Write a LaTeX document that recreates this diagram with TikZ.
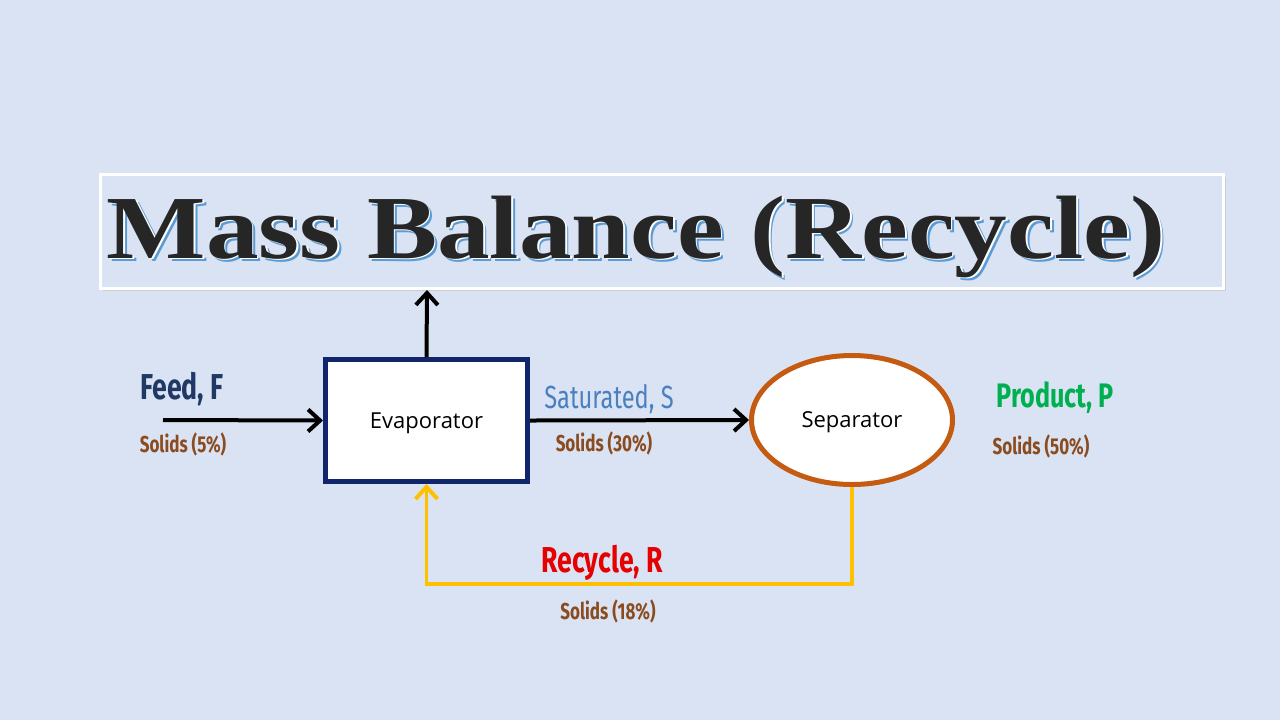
\documentclass[tikz,border=0pt]{standalone}
\usepackage{fontspec}
\setsansfont{Open Sans}
\newfontfamily\condfont[FakeStretch=0.74]{Fira Sans}
\newfontfamily\titlefont[FakeStretch=1.17]{Liberation Serif}
\usetikzlibrary{shapes.geometric,arrows.meta}

\definecolor{bgblue}{HTML}{DAE3F3}
\definecolor{boxnavy}{HTML}{10256B}
\definecolor{feedblue}{HTML}{203864}
\definecolor{satblue}{HTML}{4A80BF}
\definecolor{prodgreen}{HTML}{00B050}
\definecolor{recred}{HTML}{E60000}
\definecolor{solidbrown}{HTML}{8A4B1F}
\definecolor{seporange}{HTML}{C55A11}
\definecolor{recyellow}{HTML}{FFC000}
\definecolor{shadowblue}{HTML}{5B9BD5}

% title text with a white rim and a blue drop shadow
\newcommand{\shadowtext}[1]{%
  \rlap{\kern1.8pt\raisebox{-1.6pt}{\color{shadowblue}#1}}%
  \rlap{\kern0.9pt\raisebox{-0.8pt}{\color{white}#1}}%
  {\color{black!85}#1}}

\tikzset{
  stream/.style={draw=black, line width=2pt, -{Straight Barb[length=6pt,width=11pt,line width=2pt]}},
  streamname/.style={anchor=base, font=\condfont\bfseries},
  solids/.style={anchor=base, text=solidbrown, font=\condfont\bfseries\fontsize{11.5}{13}\selectfont},
  unit/.style={fill=white, text height=7.5pt, text depth=0pt, font=\sffamily\fontsize{11}{13}\selectfont}
}

\begin{document}
\begin{tikzpicture}[x=0.5pt,y=-0.5pt]
		% page
		\fill[bgblue] (0,0) rectangle (1280,720);
		\useasboundingbox (0,0) rectangle (1280,720);

		% title banner
		\fill[black!20] (103,177) rectangle (1226,291);
		\draw[white, line width=1.5pt, fill=bgblue] (100,174) rectangle (1223,288);
		\node[anchor=base, font=\titlefont\bfseries\fontsize{45}{50}\selectfont] (title) at (636,258) {\shadowtext{Mass Balance (Recycle)}};
		\coordinate (banner) at (427,290);

		% units
		\node[unit, draw=boxnavy, line width=2.5pt, minimum width=101pt, minimum height=61pt] (evap) at (426.5,420.5) {Evaporator};
		\node[unit, ellipse, draw=seporange, line width=2.5pt, minimum width=100.5pt, minimum height=64.5pt, inner sep=0pt] (sep) at (852,420) {Separator};

		% streams
		\coordinate (feedin) at (163,420);
		\draw[stream] (feedin) -- (evap.west);
		\draw[stream] (evap.east) -- (sep.west);
		\draw[stream] (evap.north) -- (banner);

		% recycle loop
		\coordinate (recline) at (640,584);
		\draw[stream, draw=recyellow, line width=1.75pt] (sep.south) |- (recline) -| (evap.south);

		% labels
		\node[streamname, text=feedblue, font=\condfont\bfseries\fontsize{18}{20}\selectfont] (feedlab) at (182,399) {Feed, F};
		\node[solids] (feedsol) at (183,452) {Solids (5\%)};
		\node[streamname, text=satblue, font=\condfont\fontsize{16}{18}\selectfont] (satlab) at (609,408) {Saturated, S};
		\node[solids] (satsol) at (604,451) {Solids (30\%)};
		\node[streamname, text=prodgreen, font=\condfont\bfseries\fontsize{17}{19}\selectfont] (prodlab) at (1055,407) {Product, P};
		\node[solids] (prodsol) at (1041,454) {Solids (50\%)};
		\node[streamname, text=recred, font=\condfont\bfseries\fontsize{18}{20}\selectfont] (reclab) at (602,572) {Recycle, R};
		\node[solids] (recsol) at (608,619) {Solids (18\%)};
	\end{tikzpicture}
\end{document}
